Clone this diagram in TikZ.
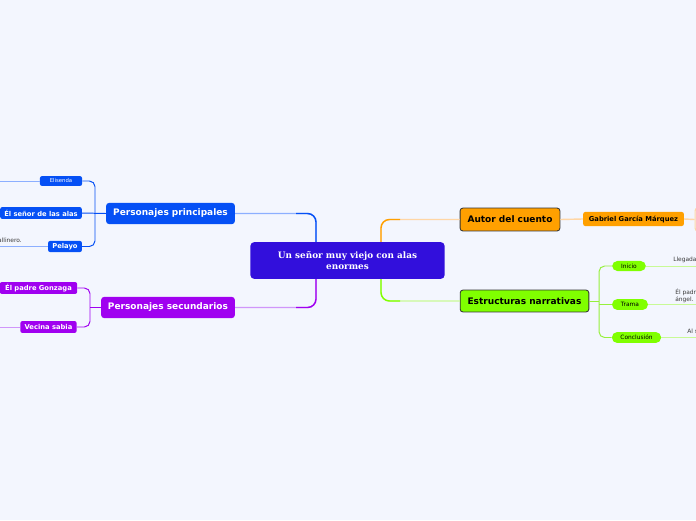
\documentclass[tikz,border=0pt]{standalone}
\usepackage{fontspec}
\setmainfont{DejaVu Sans}
\newfontfamily\titlefont{DejaVu Serif}
\usetikzlibrary{positioning}

\definecolor{bgpage}{RGB}{243,246,254}
\definecolor{rootblue}{RGB}{50,15,220}
\definecolor{topicblue}{RGB}{5,80,245}
\definecolor{topicpurple}{RGB}{160,0,240}
\definecolor{topicorange}{RGB}{255,160,0}
\definecolor{topicgreen}{RGB}{128,255,0}
\definecolor{paleblue}{RGB}{140,175,255}
\definecolor{palepurple}{RGB}{208,150,250}
\definecolor{paleorange}{RGB}{255,214,165}
\definecolor{palegreen}{RGB}{200,250,150}
\definecolor{bracegreen}{RGB}{150,240,60}
\definecolor{leaftext}{RGB}{60,60,60}

\begin{document}
\begin{tikzpicture}[x=0.025cm, y=-0.025cm,
  box/.style={rectangle, rounded corners=2pt, inner sep=0pt, text=white,
    font=\bfseries\fontsize{6.4}{7}\selectfont},
  subbox/.style={rectangle, rounded corners=1.5pt, inner sep=0pt, text=white,
    font=\bfseries\fontsize{4.8}{5.5}\selectfont},
  pill/.style={rectangle, rounded corners=3.8pt, inner sep=0pt, fill=topicgreen,
    font=\fontsize{4.2}{5}\selectfont},
  leaf/.style={inner sep=0pt, text=leaftext, font=\fontsize{4.2}{4.8}\selectfont},
  mainline/.style={line width=1pt, rounded corners=6pt},
  braceline/.style={line width=0.7pt, rounded corners=4pt},
  leafline/.style={line width=0.7pt}]
  \useasboundingbox (0,0) rectangle (696,520);
  \fill[bgpage] (0,0) rectangle (696,520);
  \clip (0,0) rectangle (696,520);

  % central topic and main branches
  \node[box, fill=rootblue, rounded corners=2.5pt, minimum width=138pt, minimum height=26pt,
    align=center, font=\titlefont\bfseries\fontsize{6.3}{7.6}\selectfont] (main) at (347.5,260.5)
    {Un señor muy viejo con alas\\enormes};
  \node[box, fill=topicblue, minimum width=91.5pt, minimum height=15pt] (pp) at (170.5,213.5) {Personajes principales};
  \node[box, fill=topicpurple, minimum width=95pt, minimum height=15pt] (ps) at (168,307.5) {Personajes secundarios};
  \node[box, fill=topicorange, text=black, draw=black!80, line width=0.6pt, minimum width=71pt, minimum height=16.3pt] (autor) at (510,219.5) {Autor del cuento};
  \node[box, fill=topicgreen, text=black, draw=black!80, line width=0.6pt, minimum width=91.5pt, minimum height=15.6pt] (estr) at (524.5,301) {Estructuras narrativas};

  \coordinate (lx) at (316,0);
  \coordinate (rx) at (381,0);
  \coordinate (ppk) at (296,213.5);
  \coordinate (psk) at (296,307.5);
  \coordinate (auk) at (400,219.5);
  \coordinate (esk) at (400,301);
  \draw[mainline, paleblue] (main.north -| lx) |- (pp.east);
  \draw[mainline, topicblue] (main.north -| lx) |- (ppk);
  \draw[mainline, palepurple] (main.south -| lx) |- (ps.east);
  \draw[mainline, topicpurple] (main.south -| lx) |- (psk);
  \draw[mainline, paleorange] (main.north -| rx) |- (autor.west);
  \draw[mainline, topicorange] (main.north -| rx) |- (auk);
  \draw[mainline, palegreen] (main.south -| rx) |- (estr.west);
  \draw[mainline, topicgreen] (main.south -| rx) |- (esk);

  % personajes principales
  \node[subbox, fill=topicblue, minimum width=30pt, minimum height=7pt, font=\fontsize{3.8}{4.5}\selectfont] (elis) at (61,181) {Elisenda};
  \node[subbox, fill=topicblue, minimum width=58pt, minimum height=8.5pt] (senor) at (41,213) {Él señor de las alas};
  \node[subbox, fill=topicblue, minimum width=24pt, minimum height=8pt] (pel) at (65,246.5) {Pelayo};
  \coordinate (pbx) at (95,213);
  \coordinate (lft) at (0,0);
  \draw[braceline, topicblue] (elis.east) -| (pbx) |- (pel.east);
  \draw[braceline, topicblue] (pp.west) -- (senor.east);
  \draw[leafline, paleblue] (elis.west) -- (elis.west -| lft);
  \draw[leafline, paleblue] (pel.west) -- (pel.west -| lft);
  \node[leaf, anchor=east] (gall) at (22,240.5) {allinero.};

  % personajes secundarios
  \node[subbox, fill=topicpurple, minimum width=55pt, minimum height=8.5pt] (gon) at (38.5,288) {Él padre Gonzaga};
  \node[subbox, fill=topicpurple, minimum width=40pt, minimum height=8.5pt] (vec) at (48.5,327) {Vecina sabia};
  \coordinate (sbx) at (90,307.5);
  \draw[braceline, topicpurple] (gon.east) -| (sbx) |- (vec.east);
  \draw[braceline, topicpurple] (ps.west) -- (sbx);
  \draw[leafline, palepurple] (vec.west) -- (vec.west -| lft);

  % autor
  \node[subbox, fill=topicorange, text=black, minimum width=71.6pt, minimum height=10pt] (gab) at (633.5,219) {Gabriel García Márquez};
  \node[rectangle, rounded corners=2pt, draw=paleorange, line width=0.8pt, fill=bgpage, anchor=west,
    minimum width=20pt, minimum height=16.3pt] (gableaf) at (694.5,219.5) {};
  \draw[leafline, paleorange, line width=1pt] (autor.east) -- (gab.west);
  \draw[leafline, paleorange, line width=1pt] (gab.east) -- (gableaf.west);

  % estructuras narrativas
  \node[pill, minimum width=24pt, minimum height=7.2pt] (ini) at (629,266) {Inicio};
  \node[pill, minimum width=25.5pt, minimum height=7.8pt] (tra) at (630,304.5) {Trama};
  \node[pill, minimum width=35pt, minimum height=7.8pt] (con) at (636.5,337.5) {Conclusión};
  \coordinate (ebx) at (599,301);
  \coordinate (rgt) at (696,0);
  \draw[braceline, bracegreen] (ini.west) -| (ebx) |- (con.west);
  \draw[braceline, bracegreen] (estr.east) -- (ebx);
  \draw[braceline, bracegreen] (tra.west) -- (tra.west -| ebx);
  \draw[leafline, palegreen] (ini.east) -- (ini.east -| rgt);
  \draw[leafline, palegreen] (tra.east) -- (tra.east -| rgt);
  \draw[leafline, palegreen] (con.east) -- (con.east -| rgt);
  \node[leaf, anchor=west] (lleg) at (673,260) {Llegada};
  \node[leaf, anchor=west, align=left] (padre) at (675,296) {Él padre\\ángel.};
  \node[leaf, anchor=west] (als) at (687,331.5) {Al s};
\end{tikzpicture}
\end{document}
